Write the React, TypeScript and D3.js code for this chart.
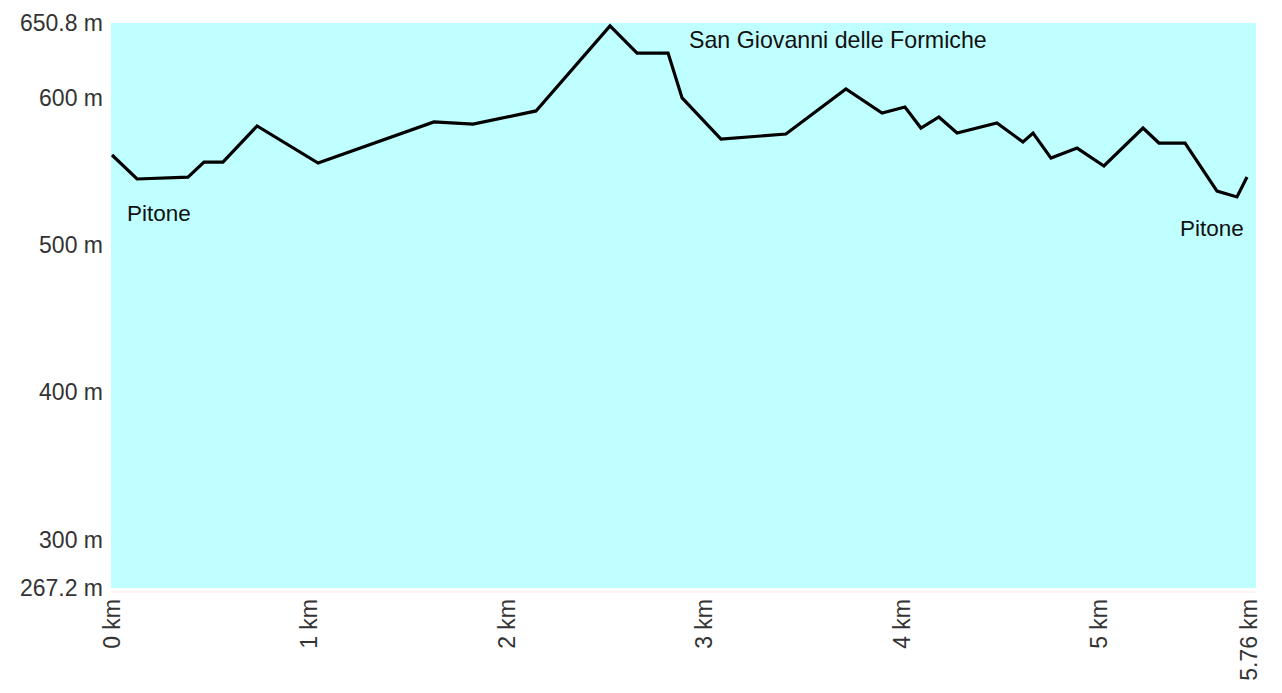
import React from "react";
import * as d3 from "d3";

const distanceKm = [0, 0.127, 0.385, 0.466, 0.562, 0.735, 1.044, 1.631, 1.829, 2.148, 2.523, 2.66, 2.817, 2.888, 3.085, 3.414, 3.718, 3.901, 4.017, 4.098, 4.189, 4.281, 4.483, 4.615, 4.666, 4.757, 4.889, 5.025, 5.223, 5.304, 5.436, 5.598, 5.699, 5.75];
const elevationM = [561.2, 544.9, 546.2, 556.4, 556.4, 580.9, 555.7, 583.6, 582.2, 591.1, 648.8, 630.4, 630.4, 599.9, 572.0, 575.4, 606.0, 589.7, 593.8, 579.5, 587.0, 576.1, 582.9, 570.0, 576.1, 559.1, 565.9, 553.7, 579.5, 569.3, 569.3, 536.7, 532.7, 546.2];

const yTickValues = [267.2, 300, 400, 500, 600, 650.8];
const yTickLabels = ["267.2 m", "300 m", "400 m", "500 m", "600 m", "650.8 m"];
const xTickValues = [0, 1, 2, 3, 4, 5, 5.76];
const xTickLabels = ["0 km", "1 km", "2 km", "3 km", "4 km", "5 km", "5.76 km"];

const placeNames = ["Pitone", "San Giovanni delle Formiche", "Pitone"];

const W = 1282;
const H = 693;
const FONT = "'Liberation Sans', Arial, sans-serif";

export default function App() {
  const x = d3.scaleLinear().domain([0, 5.76]).range([112, 1249]);
  const y = d3.scaleLinear().domain([267.2, 650.8]).range([588, 23]);
  const pts = distanceKm.map((d, i) => [d, elevationM[i]] as [number, number]);
  const line = d3
    .line<[number, number]>()
    .x((d) => x(d[0]))
    .y((d) => y(d[1]));

  return (
    <svg
      width={W}
      height={H}
      style={{ position: "absolute", left: 0, top: 0, display: "block", background: "#fff" }}
      fontFamily={FONT}
    >
      <rect x={111} y={23} width={1256 - 111} height={588 - 23} fill="#c0ffff" />
      <line x1={111} x2={1256} y1={592} y2={592} stroke="#ffe6e6" strokeWidth={1} />
      {yTickValues.map((v, i) => (
        <text
          key={"y" + i}
          x={103}
          y={y(v)}
          dy="0.35em"
          textAnchor="end"
          fontSize={23}
          fill="#333"
        >
          {yTickLabels[i]}
        </text>
      ))}
      {xTickValues.map((v, i) => (
        <text
          key={"x" + i}
          transform={`translate(${x(v)},599) rotate(-90)`}
          dy="0.35em"
          textAnchor="end"
          fontSize={23}
          fill="#333"
        >
          {xTickLabels[i]}
        </text>
      ))}
      <path
        d={line(pts) ?? ""}
        fill="none"
        stroke="#000"
        strokeWidth={3.2}
        strokeLinejoin="miter"
      />
      <text x={127} y={221} fontSize={22.5} fill="#111">
        {placeNames[0]}
      </text>
      <text x={689} y={48} fontSize={23.2} fill="#111">
        {placeNames[1]}
      </text>
      <text x={1180} y={236} fontSize={22.5} fill="#111">
        {placeNames[2]}
      </text>
    </svg>
  );
}
